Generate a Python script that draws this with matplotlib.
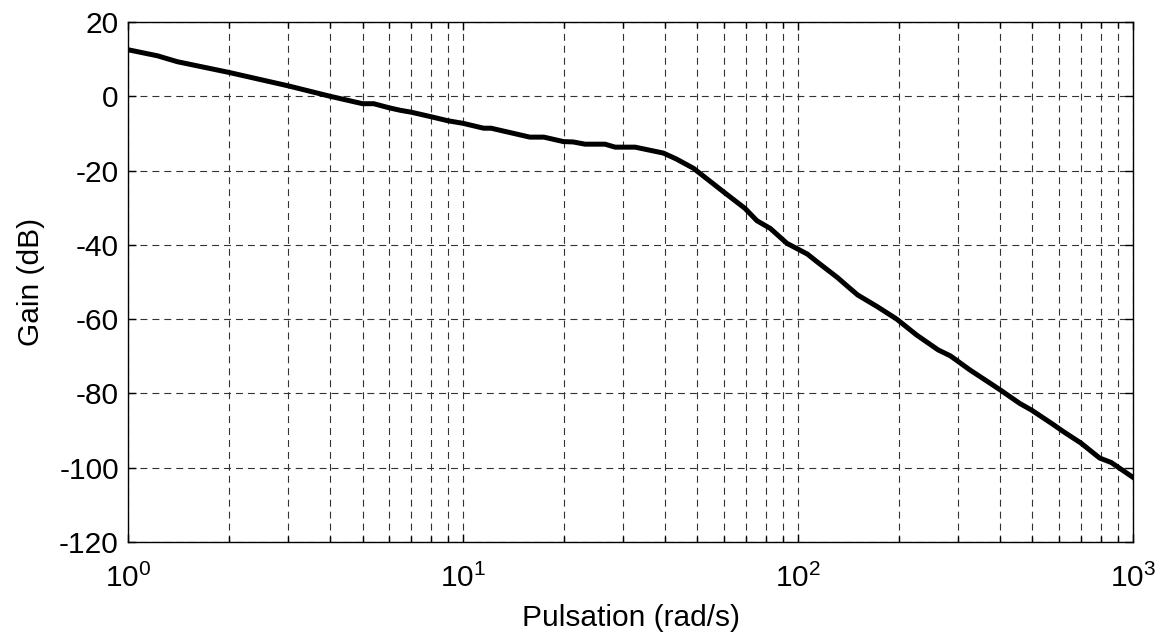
import matplotlib
matplotlib.use("Agg")
import matplotlib.pyplot as plt
from matplotlib.ticker import LogLocator, FixedLocator, NullFormatter

# Data (pulsation in rad/s, gain in dB)
omega = [1.0, 1.22, 1.40, 2.0, 3.0, 4.0, 5.0, 5.4, 6.0, 6.5, 7.0, 8.0, 9.0, 10.0,
         11.5, 12.1, 15.8, 17.4, 19.9, 21.3, 23.1, 26.5, 28.4, 32.6, 39.6, 43.3,
         48.7, 59.8, 69.4, 75.3, 82.6, 92.6, 106.6, 114, 131, 141, 150.6, 172,
         197, 226, 262, 285, 326, 375, 405, 459, 498, 574, 620, 700, 795, 861, 1000]
gain_db = [12.5, 10.9, 9.3, 6.4, 2.8, 0.0, -2.0, -2.0, -3.1, -3.8, -4.3, -5.5, -6.6, -7.3,
           -8.6, -8.6, -11.0, -11.0, -12.2, -12.3, -12.9, -12.9, -13.7, -13.7, -15.3, -16.9,
           -19.4, -25.7, -30.2, -33.5, -35.6, -39.6, -42.5, -44.6, -48.8, -51.3, -53.5, -56.6,
           -60.0, -64.3, -68.3, -69.9, -73.7, -77.3, -79.3, -82.7, -84.5, -88.2, -90.3, -93.4,
           -97.4, -98.6, -102.6]

y_ticks = [20, 0, -20, -40, -60, -80, -100, -120]
x_label = "Pulsation (rad/s)"
y_label = "Gain (dB)"

plt.rcParams['font.family'] = ['Liberation Sans', 'DejaVu Sans']
plt.rcParams['mathtext.fontset'] = 'custom'
plt.rcParams['mathtext.rm'] = 'Liberation Sans'
plt.rcParams['mathtext.it'] = 'Liberation Sans'
plt.rcParams['mathtext.bf'] = 'Liberation Sans'
plt.rcParams['lines.scale_dashes'] = False
plt.rcParams['axes.unicode_minus'] = False

fig = plt.figure(figsize=(11.65, 6.41), dpi=100)
ax = fig.add_axes([0.1103, 0.1545, 0.8622, 0.8112])

ax.plot(omega, gain_db, color='black', lw=3.6, solid_joinstyle='round', zorder=3)

ax.set_xscale('log')
ax.set_xlim(1, 1000)
ax.set_ylim(-120, 20)
ax.set_yticks(y_ticks)
ax.xaxis.set_major_locator(FixedLocator([1, 10, 100, 1000]))
ax.xaxis.set_minor_locator(LogLocator(base=10, subs=range(2, 10), numticks=20))
ax.xaxis.set_minor_formatter(NullFormatter())

grid_kw = dict(color='#333333', linewidth=0.8, linestyle=(0, (5.0, 3.6)))
ax.grid(True, which='major', axis='both', **grid_kw)
ax.grid(True, which='minor', axis='x', **grid_kw)

for s in ax.spines.values():
    s.set_linewidth(1.0)

ax.tick_params(axis='both', which='both', direction='in', top=True, right=True,
               width=1.0, labelsize=21.5, colors='black')
ax.tick_params(axis='both', which='major', length=6)
ax.tick_params(axis='x', which='minor', length=4)
ax.tick_params(axis='x', which='major', pad=16)
ax.tick_params(axis='y', which='major', pad=7)

ax.set_xlabel(x_label, fontsize=21.5, labelpad=8)
ax.set_ylabel(y_label, fontsize=21.5, labelpad=10)

fig.savefig('out.png', dpi=100)
